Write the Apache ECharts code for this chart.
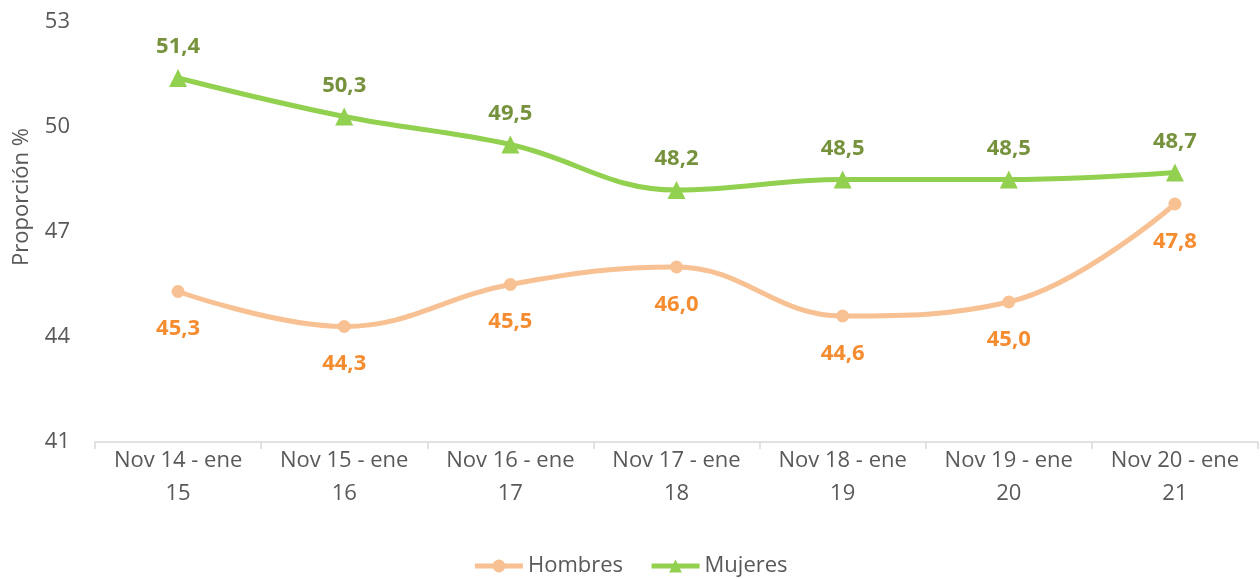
<!DOCTYPE html>
<html>
<head>
<meta charset="utf-8">
<script src="https://cdn.jsdelivr.net/npm/echarts@6/dist/echarts.min.js"></script>
<style>
html, body { margin: 0; padding: 0; background: #fff; }
#chart { width: 1260px; height: 579px; }
</style>
</head>
<body>
<div id="chart"></div>
<script>
// periodos
var categories = ['Nov 14 - ene\n15', 'Nov 15 - ene\n16', 'Nov 16 - ene\n17', 'Nov 17 - ene\n18',
    'Nov 18 - ene\n19', 'Nov 19 - ene\n20', 'Nov 20 - ene\n21'];
var hombres = [45.3, 44.3, 45.5, 46.0, 44.6, 45.0, 47.8];
var mujeres = [51.4, 50.3, 49.5, 48.2, 48.5, 48.5, 48.7];
var yTicks = [41, 44, 47, 50, 53];

var font = '"Open Sans", "Noto Sans", sans-serif';
var chart = echarts.init(document.getElementById('chart'));

var fmt = function (p) {
    return p.value.toFixed(1).replace('.', ',');
};

var option = {
    animation: false,
    grid: { left: 95, right: 2, top: 22, bottom: 137 },
    legend: {
        top: 550,
        left: 'center',
        itemWidth: 48,
        itemHeight: 16,
        itemGap: 26,
        lineStyle: { width: 5 },
        textStyle: { fontFamily: font, fontSize: 22, color: '#595959' },
        data: ['Hombres', 'Mujeres']
    },
    xAxis: {
        type: 'category',
        data: categories,
        boundaryGap: true,
        axisLine: { lineStyle: { color: '#d9d9d9', width: 1.5 } },
        axisTick: { show: true, interval: 0, length: 7, lineStyle: { color: '#d9d9d9', width: 1.5 } },
        axisLabel: { interval: 0, fontFamily: font, fontSize: 22, color: '#595959', lineHeight: 33, margin: 2 }
    },
    yAxis: {
        type: 'value',
        min: yTicks[0],
        max: yTicks[yTicks.length - 1],
        interval: 3,
        name: 'Proporción %',
        nameLocation: 'middle',
        nameGap: 62,
        nameTextStyle: { fontFamily: font, fontSize: 22, color: '#595959', padding: [0, 0, 0, 70] },
        axisLine: { show: false },
        axisTick: { show: false },
        splitLine: { show: false },
        axisLabel: { fontFamily: font, fontSize: 22, color: '#595959', margin: 25 }
    },
    series: [{
        name: 'Hombres',
        type: 'line',
        data: hombres,
        smooth: 0.4,
        symbol: 'circle',
        symbolSize: 13,
        lineStyle: { color: '#F8C194', width: 5 },
        itemStyle: { color: '#F8C194' },
        label: {
            show: true,
            position: 'bottom',
            distance: 20,
            formatter: fmt,
            fontFamily: font,
            fontSize: 22,
            fontWeight: 'bold',
            color: '#F58C30'
        }
    }, {
        name: 'Mujeres',
        type: 'line',
        data: mujeres,
        smooth: 0.4,
        symbol: 'triangle',
        symbolSize: 18,
        lineStyle: { color: '#92D050', width: 5 },
        itemStyle: { color: '#92D050' },
        label: {
            show: true,
            position: 'top',
            distance: 11,
            formatter: fmt,
            fontFamily: font,
            fontSize: 22,
            fontWeight: 'bold',
            color: '#76923C'
        }
    }]
};
chart.setOption(option);
</script>
</body>
</html>
